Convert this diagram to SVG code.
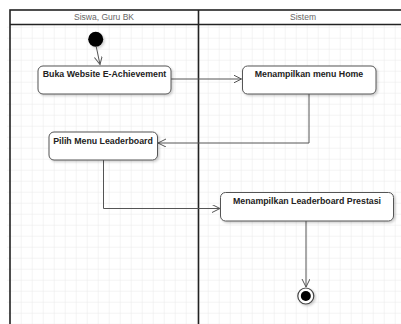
<svg xmlns="http://www.w3.org/2000/svg" width="401" height="324" viewBox="0 0 401 324">
<defs>
<pattern id="grid" x="10.7" y="16.7" width="11" height="11" patternUnits="userSpaceOnUse">
<path d="M11 0V11M0 11H11" fill="none" stroke="#e9e9e9" stroke-width="1"/>
</pattern>
<marker id="arr" markerWidth="10" markerHeight="10" refX="8" refY="4" orient="auto" markerUnits="userSpaceOnUse">
<path d="M0 0L8 4L0 8" fill="none" stroke="#555" stroke-width="1"/>
</marker>
<filter id="sh" x="-10%" y="-10%" width="130%" height="140%">
<feDropShadow dx="1.5" dy="1.5" stdDeviation="1" flood-color="#000" flood-opacity="0.2"/>
</filter>
</defs>
<style>
.lane{fill:none;stroke:#222;stroke-width:1.6}
.hdr{font-family:"Liberation Sans",Arial,sans-serif;font-size:8.5px;fill:#666;text-anchor:middle}
.box{fill:#fff;stroke:#555;stroke-width:1;filter:url(#sh)}
.lbl{font-family:"Liberation Sans",Arial,sans-serif;font-size:8.8px;font-weight:bold;fill:#222;text-anchor:middle}
.con{fill:none;stroke:#555;stroke-width:1;marker-end:url(#arr)}
</style>
<rect width="401" height="324" fill="#fff"/>
<rect x="7" y="25" width="394" height="299" fill="url(#grid)"/>
<g id="lanes">
<rect x="10" y="10" width="400" height="330" class="lane" fill="none"/>
<line x1="10" y1="24.5" x2="401" y2="24.5" class="lane"/>
<line x1="198.5" y1="10" x2="198.5" y2="324" class="lane"/>
<text x="104" y="20" class="hdr">Siswa, Guru BK</text>
<text x="303" y="20" class="hdr">Sistem</text>
</g>
<g id="connectors">
<path class="con" d="M96.3 47L100 64.5"/>
<path class="con" d="M171 79H241.5"/>
<path class="con" d="M309 94V143H158"/>
<path class="con" d="M103.5 160V208.5H220"/>
<path class="con" d="M306 221V287"/>
</g>
<g id="start"><circle cx="95.7" cy="39.3" r="7.5" fill="#000" filter="url(#sh)"/></g>
<g id="n1"><rect class="box" x="38" y="66" width="133" height="28" rx="5"/><text class="lbl" x="104.5" y="77">Buka Website E-Achievement</text></g>
<g id="n2"><rect class="box" x="242.5" y="66" width="133.5" height="28" rx="5"/><text class="lbl" x="309" y="77">Menampilkan menu Home</text></g>
<g id="n3"><rect class="box" x="49" y="132" width="108.5" height="28" rx="5"/><text class="lbl" x="103" y="143.5">Pilih Menu Leaderboard</text></g>
<g id="n4"><rect class="box" x="220.5" y="192.5" width="173" height="28.5" rx="5"/><text class="lbl" x="307" y="203.5">Menampilkan Leaderboard Prestasi</text></g>
<g id="end"><circle cx="305.8" cy="296" r="8" fill="#fff" stroke="#444" stroke-width="1.2" filter="url(#sh)"/><circle cx="305.8" cy="296" r="5" fill="#000"/></g>
</svg>
